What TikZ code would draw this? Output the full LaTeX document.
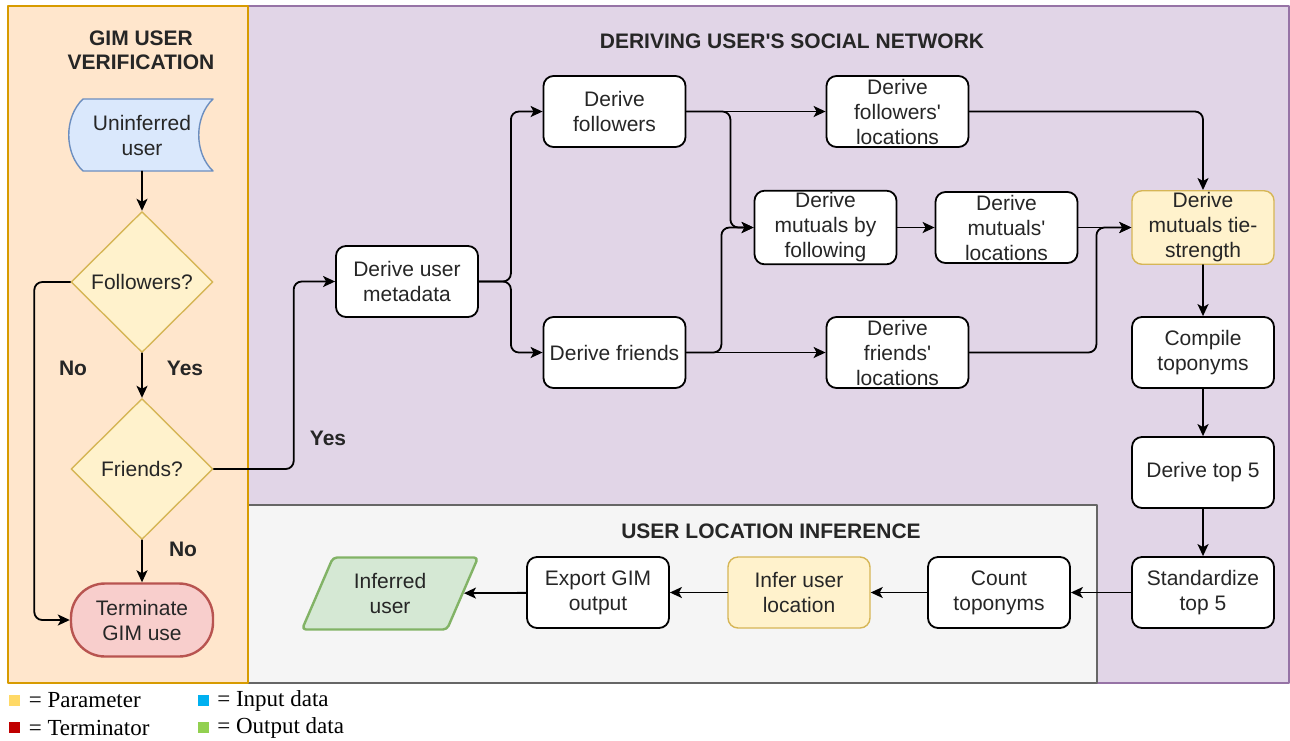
\documentclass[tikz,border=0pt]{standalone}
\usepackage{fontspec}
\setmainfont{Liberation Sans}
\newfontfamily\legfont{Liberation Serif}
\usetikzlibrary{arrows.meta,shapes.geometric,positioning}
\definecolor{verfill}{HTML}{FFE6CC}\definecolor{verline}{HTML}{D79B00}
\definecolor{netfill}{HTML}{E1D5E7}\definecolor{netline}{HTML}{9673A6}
\definecolor{locfill}{HTML}{F5F5F5}\definecolor{locline}{HTML}{666666}
\definecolor{parfill}{HTML}{FFF2CC}\definecolor{parline}{HTML}{D6B656}
\definecolor{infill}{HTML}{DAE8FC}\definecolor{inpline}{HTML}{6C8EBF}
\definecolor{termfill}{HTML}{F8CECC}\definecolor{termline}{HTML}{B85450}
\definecolor{outfill}{HTML}{D5E8D4}\definecolor{outpline}{HTML}{82B366}
\definecolor{legpar}{HTML}{FFD966}\definecolor{legin}{HTML}{00B0F0}
\definecolor{legterm}{HTML}{C00000}\definecolor{legout}{HTML}{92D050}
\newcommand{\q}{\textquotesingle}
\begin{document}
\begin{tikzpicture}[x=0.5pt,y=-0.5pt,line cap=round,line join=round,
  >={Stealth[length=6pt,width=5.5pt,inset=1.5pt]},
  every node/.style={font=\fontsize{10.5}{12.5}\selectfont,text=black!85},
  box/.style={draw=black,line width=0.9pt,fill=white,rounded corners=5pt,
    minimum width=71pt,minimum height=35.5pt,align=center,inner sep=1pt},
  param/.style={box,draw=parline,fill=parfill,line width=0.7pt},
  choice/.style={diamond,draw=parline,fill=parfill,line width=0.7pt,aspect=1,
    minimum width=71pt,minimum height=70.5pt,inner sep=0pt},
  link/.style={->,line width=0.9pt,rounded corners=4pt},
  title/.style={font=\bfseries\fontsize{10.5}{12}\selectfont,align=center},
  tag/.style={font=\bfseries\fontsize{10.5}{12}\selectfont},
  legsq/.style={minimum size=5.5pt,inner sep=0pt},
  legtxt/.style={font=\legfont\fontsize{11.5}{13}\selectfont,text=black,inner sep=0pt}]
  \useasboundingbox (0,0) rectangle (1290,740);

  % swimlanes
  \filldraw[fill=netfill,draw=netline,line width=0.8pt] (248,6) rectangle (1289,683);
  \filldraw[fill=locfill,draw=locline,line width=0.8pt] (248,505) rectangle (1097,683);
  \filldraw[fill=verfill,draw=verline,line width=0.8pt] (8,6) rectangle (248,683);
  \node[title] (vertitle) at (141,50) {GIM USER\\VERIFICATION};
  \node[title] (nettitle) at (792,41) {DERIVING USER\q S SOCIAL NETWORK};
  \node[title] (loctitle) at (771,531) {USER LOCATION INFERENCE};

  % verification
  \filldraw[fill=infill,draw=inpline,line width=0.7pt] (83,99) -- (213,99)
    .. controls (194,117) and (194,153) .. (213,171) -- (83,171)
    .. controls (64,153) and (64,117) .. (83,99) -- cycle;
  \node[align=center,minimum width=65pt,minimum height=36pt,inner sep=0pt] (uninf) at (142,135) {Uninferred\\user};
  \node[choice] (folq) at (142,282) {Followers?};
  \node[choice] (friq) at (142,469) {Friends?};
  \node[draw=termline,fill=termfill,line width=1.2pt,rounded corners=17pt,align=center,
    minimum width=71pt,minimum height=36.5pt,inner sep=0pt] (term) at (142,620) {Terminate\\GIM use};
  \draw[link] (uninf.south) -- (folq.north);
  \draw[link] (folq.south) -- (friq.north);
  \draw[link] (friq.south) -- (term.north);
  \draw[link] (folq.west) -- ++(-36,0) |- (term.west);
  \node[tag] (yes1) at (185,368) {Yes};
  \node[tag] (no1) at (73,368) {No};
  \node[tag] (no2) at (183,549) {No};

  % social network
  \node[box] (meta) at (407,281.5) {Derive user\\metadata};
  \node[box] (fol) at (614.5,111.5) {Derive\\followers};
  \node[box] (frd) at (614.5,352.5) {Derive friends};
  \node[box] (folloc) at (897.5,111.5) {Derive\\followers\q\\locations};
  \node[box] (mutfol) at (825.5,227.5) {Derive\\mutuals by\\following};
  \node[box] (mutloc) at (1006.5,227.5) {Derive\\mutuals\q\\locations};
  \node[box] (friloc) at (897.5,352.5) {Derive\\friends\q\\locations};
  \node[param] (tie) at (1203,227.5) {Derive\\mutuals tie-\\strength};
  \node[box] (comp) at (1203,352.5) {Compile\\toponyms};
  \node[box] (top5) at (1203,472.5) {Derive top 5};
  \node[box] (std) at (1203,592.5) {Standardize\\top 5};
  \draw[link] (friq.east) -- ++(80,0) |- (meta.west);
  \node[tag] (yes2) at (328,438) {Yes};
  \draw[link] (meta.east) -- ++(32,0) |- (fol.west);
  \draw[link] (meta.east) -- ++(32,0) |- (frd.west);
  \draw[link] (fol.east) -- (folloc.west);
  \draw[link] (fol.east) -- ++(44,0) |- (mutfol.west);
  \draw[link] (frd.east) -- ++(35,0) |- (mutfol.west);
  \draw[link] (frd.east) -- (friloc.west);
  \draw[link] (mutfol) -- (mutloc);
  \draw[link] (mutloc) -- (tie);
  \draw[link] (friloc.east) -- ++(127,0) |- (tie.west);
  \draw[link] (folloc.east) -| (tie.north);
  \draw[link] (tie) -- (comp);
  \draw[link] (comp) -- (top5);
  \draw[link] (top5) -- (std);

  % location inference
  \node[box] (count) at (999,592.5) {Count\\toponyms};
  \node[param] (infer) at (799,592.5) {Infer user\\location};
  \node[box] (export) at (598,592.5) {Export GIM\\output};
  \node[trapezium,trapezium left angle=64,trapezium right angle=116,trapezium stretches=true,
    draw=outpline,fill=outfill,line width=1.2pt,rounded corners=2pt,align=center,
    minimum width=88.5pt,minimum height=36pt,inner sep=0pt] (inferred) at (390,593.5) {Inferred\\user};
  \draw[link] (std) -- (count);
  \draw[link] (count) -- (infer);
  \draw[link] (infer) -- (export);
  \draw[link] (export) -- (inferred);

  % legend
  \node[legsq,fill=legpar] (lp) at (14.5,700.5) {};
  \node[legtxt,right=4pt of lp] (lpt) {= Parameter};
  \node[legsq,fill=legterm] (lt) at (14.5,727.5) {};
  \node[legtxt,right=4pt of lt] (ltt) {= Terminator};
  \node[legsq,fill=legin] (li) at (203,700.5) {};
  \node[legtxt,right=4pt of li] (lit) {= Input data};
  \node[legsq,fill=legout] (lo) at (203,727.5) {};
  \node[legtxt,right=4pt of lo] (lot) {= Output data};
\end{tikzpicture}
\end{document}
